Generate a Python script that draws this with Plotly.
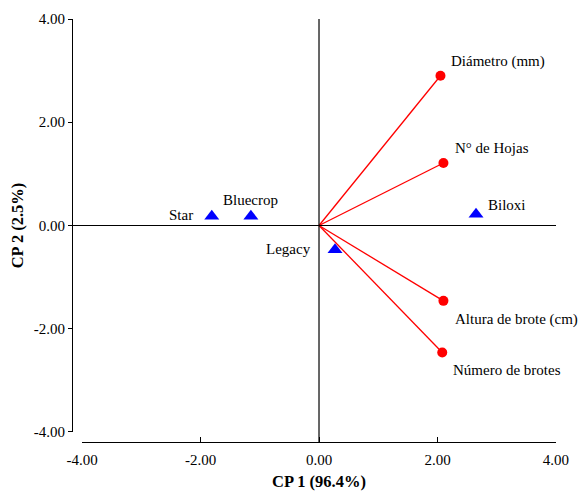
import plotly.graph_objects as go

# Variables (loadings)
var_names = ["Diámetro (mm)", "N° de Hojas", "Altura de brote (cm)", "Número de brotes"]
var_x = [2.05, 2.10, 2.10, 2.08]
var_y = [2.90, 1.21, -1.46, -2.46]
var_shift_x = [9, 10, 10, 9]
var_shift_y = [14, 15, -19, -18]

# Cultivars (scores)
cult_names = ["Star", "Bluecrop", "Legacy", "Biloxi"]
cult_x = [-1.81, -1.15, 0.27, 2.65]
cult_y = [0.18, 0.18, -0.47, 0.22]
cult_anchor = ["right", "center", "right", "left"]
cult_shift_x = [-17, 0, -22, 10]
cult_shift_y = [1, 16, 1, 9]

tick_vals = [-4, -2, 0, 2, 4]
tick_text = ["-4.00", "-2.00", "0.00", "2.00", "4.00"]

FONT = "Liberation Serif"

fig = go.Figure()

# vectors from origin
for vx, vy in zip(var_x, var_y):
    fig.add_trace(go.Scatter(x=[0, vx], y=[0, vy], mode="lines",
                             line=dict(color="#ff0000", width=1.3),
                             showlegend=False, hoverinfo="skip"))

fig.add_trace(go.Scatter(x=var_x, y=var_y, mode="markers",
                         marker=dict(symbol="circle", size=10, color="#ff0000"),
                         showlegend=False))
fig.add_trace(go.Scatter(x=cult_x, y=cult_y, mode="markers",
                         marker=dict(symbol="triangle-up", size=13, color="#0000ff"),
                         showlegend=False))

for n, x, y, sx, sy in zip(var_names, var_x, var_y, var_shift_x, var_shift_y):
    fig.add_annotation(x=x, y=y, text=n, showarrow=False, xanchor="left",
                       yanchor="middle", xshift=sx, yshift=sy,
                       font=dict(family=FONT, size=15, color="#000000"))
for n, x, y, a, sx, sy in zip(cult_names, cult_x, cult_y, cult_anchor, cult_shift_x, cult_shift_y):
    fig.add_annotation(x=x, y=y, text=n, showarrow=False, xanchor=a,
                       yanchor="middle", xshift=sx, yshift=sy,
                       font=dict(family=FONT, size=15, color="#000000"))

# reference lines through origin
fig.add_shape(type="line", xref="paper", yref="y", x0=0, x1=1, y0=0, y1=0,
              line=dict(color="black", width=1.2))
fig.add_shape(type="line", xref="x", yref="paper", x0=0, x1=0, y0=0, y1=1,
              line=dict(color="black", width=1.2))

fig.update_layout(
    width=581, height=491,
    margin=dict(l=72, r=25, t=19, b=49),
    plot_bgcolor="white", paper_bgcolor="white",
    font=dict(family=FONT, size=15, color="black"),
    xaxis=dict(range=[-4, 4], domain=[0.0207, 1], anchor="free", position=0,
               automargin=False,
               tickvals=tick_vals, ticktext=tick_text, ticks="inside", ticklen=5,
               tickcolor="black", showline=True, linecolor="black", linewidth=1.2,
               showgrid=False, zeroline=False, tickfont=dict(family=FONT, size=15),
               ticklabelstandoff=4,
               title=dict(text="<b>CP 1 (96.4%)</b>", standoff=9,
                          font=dict(family=FONT, size=16.5))),
    yaxis=dict(range=[-4, 4], domain=[0.0237, 1], anchor="free", position=0,
               automargin=False,
               tickvals=tick_vals, ticktext=tick_text, ticks="outside", ticklen=4,
               tickcolor="black", showline=True, linecolor="black", linewidth=1.2,
               showgrid=False, zeroline=False, tickfont=dict(family=FONT, size=15),
               title=dict(text="<b>CP 2 (2.5%)</b>", standoff=4,
                          font=dict(family=FONT, size=16.5))),
)

fig.write_html("out.html")
